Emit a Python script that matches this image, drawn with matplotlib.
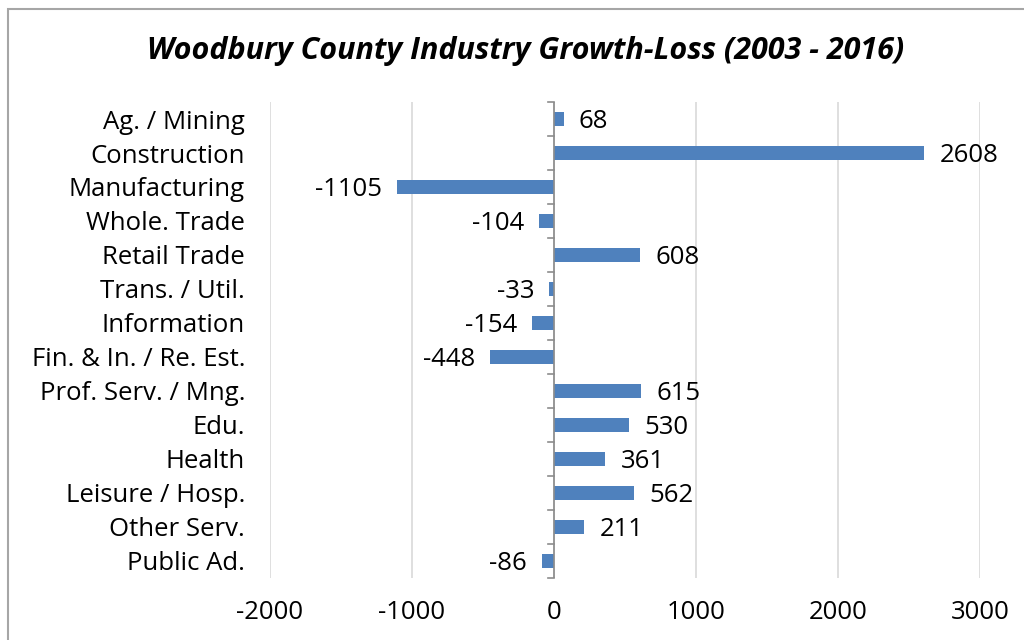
import matplotlib.pyplot as plt
import numpy as np
from matplotlib.patches import Rectangle

# Datos
sectores = ['Ag. / Mining', 'Construction', 'Manufacturing', 'Whole. Trade',
            'Retail Trade', 'Trans. / Util.', 'Information', 'Fin. & In. / Re. Est.',
            'Prof. Serv. / Mng.', 'Edu.', 'Health', 'Leisure / Hosp.',
            'Other Serv.', 'Public Ad.']
cambio = [68, 2608, -1105, -104, 608, -33, -154, -448, 615, 530, 361, 562, 211, -86]
ticks_x = [-2000, -1000, 0, 1000, 2000, 3000]

plt.rcParams['font.family'] = ['Open Sans', 'DejaVu Sans']
fs = 18.5

fig = plt.figure(figsize=(10.24, 6.4), dpi=100)
ax = fig.add_axes([0.2637, 0.097, 0.6934, 0.7436])

# Borde de la figura
fig.patches.append(Rectangle((8 / 1024, -0.1), 1.2, (640 - 9) / 640 + 0.1,
                             transform=fig.transFigure, fill=False,
                             edgecolor='#a6a6a6', linewidth=1.5))

y = np.arange(len(sectores))
ax.barh(y, cambio, height=0.4, color='#4f81bd', zorder=3)

# Etiquetas de datos
for yi, v in zip(y, cambio):
  if v >= 0:
    ax.annotate(str(v), (v, yi), xytext=(11, -2), textcoords='offset points',
                ha='left', va='center', fontsize=fs)
  else:
    ax.annotate(str(v), (v, yi), xytext=(-11, -2), textcoords='offset points',
                ha='right', va='center', fontsize=fs)

ax.set_xlim(-2000, 3000)
ax.set_ylim(len(sectores) - 0.5, -0.5)
ax.set_xticks(ticks_x)
ax.set_xticklabels([str(t) for t in ticks_x], fontsize=fs)
ax.tick_params(axis='x', length=0, pad=16)

# Eje y en cero con marcas entre categorias
ax.set_yticks(y)
ax.set_yticklabels(sectores, fontsize=fs)
ax.tick_params(axis='y', length=0, pad=18)
for yt in np.arange(len(sectores) + 1) - 0.5:
  ax.plot([-45, 0], [yt, yt], color='#8c8c8c', linewidth=1.2, zorder=4, clip_on=False)
ax.axvline(0, color='#8c8c8c', linewidth=1.2, zorder=4)

ax.grid(axis='x', color='#d9d9d9', linewidth=1.2, zorder=0)
for s in ax.spines.values():
  s.set_visible(False)

fig.text(0.513, 0.921, 'Woodbury County Industry Growth-Loss (2003 - 2016)',
         ha='center', va='center', fontsize=22, fontweight='bold', style='italic')

plt.savefig('out.png', dpi=100)
